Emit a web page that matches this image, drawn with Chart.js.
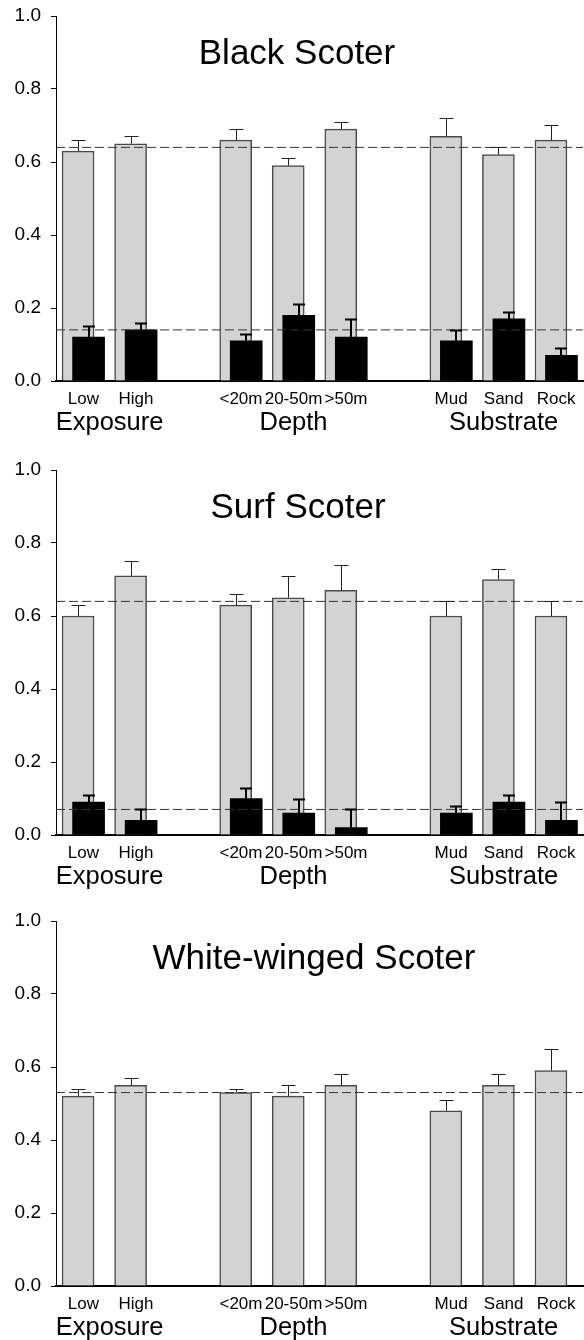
<!DOCTYPE html>
<html>
<head>
<meta charset="utf-8">
<script src="https://cdn.jsdelivr.net/npm/chart.js@4.4.0/dist/chart.umd.min.js"></script>
<style>
  body { margin: 0; background: #fff; overflow: hidden; }
  canvas { position: absolute; left: 0; }
</style>
</head>
<body>
<canvas id="c0" width="584" height="433" style="top:4px"></canvas>
<canvas id="c1" width="584" height="433" style="top:458px"></canvas>
<canvas id="c2" width="584" height="433" style="top:909px"></canvas>
<script>
// categories along the x axis, slot index leaves gaps between groups
const categories = ['Low', 'High', '<20m', '20-50m', '>50m', 'Mud', 'Sand', 'Rock'];
const slots = [0, 1, 3, 4, 5, 7, 8, 9];
const groups = ['Exposure', 'Depth', 'Substrate'];
const groupSlots = [[0, 1], [3, 4, 5], [7, 8, 9]];
const yTicks = [0, 0.2, 0.4, 0.6, 0.8, 1.0];

const titles = ['Black Scoter', 'Surf Scoter', 'White-winged Scoter'];

const blackGrey = [0.63, 0.65, 0.66, 0.59, 0.69, 0.67, 0.62, 0.66];
const blackGreyErr = [0.03, 0.02, 0.03, 0.02, 0.02, 0.05, 0.02, 0.04];
const blackDark = [0.12, 0.14, 0.11, 0.18, 0.12, 0.11, 0.17, 0.07];
const blackDarkErr = [0.03, 0.02, 0.02, 0.03, 0.05, 0.03, 0.02, 0.02];
const blackRef = [0.64, 0.14];

const surfGrey = [0.60, 0.71, 0.63, 0.65, 0.67, 0.60, 0.70, 0.60];
const surfGreyErr = [0.03, 0.04, 0.03, 0.06, 0.07, 0.04, 0.03, 0.04];
const surfDark = [0.09, 0.04, 0.10, 0.06, 0.02, 0.06, 0.09, 0.04];
const surfDarkErr = [0.02, 0.03, 0.03, 0.04, 0.05, 0.02, 0.02, 0.05];
const surfRef = [0.64, 0.07];

const whiteGrey = [0.52, 0.55, 0.53, 0.52, 0.55, 0.48, 0.55, 0.59];
const whiteGreyErr = [0.02, 0.02, 0.01, 0.03, 0.03, 0.03, 0.03, 0.06];
const whiteRef = [0.53];

const FONT = "'Liberation Sans', Arial, sans-serif";
const X_MIN = -0.42, X_MAX = 9.61;
const DARK_SHIFT = 0.2;
const titleCenters = [297, 298, 314];

// upward error bars with a cap
const errorBars = {
  id: 'errorBars',
  afterDatasetsDraw(chart) {
    const ctx = chart.ctx;
    const y = chart.scales.y;
    chart.data.datasets.forEach((ds, d) => {
      if (!ds.errors) return;
      const meta = chart.getDatasetMeta(d);
      ctx.save();
      ctx.strokeStyle = ds.errColor;
      ctx.lineWidth = ds.errWidth;
      meta.data.forEach((bar, i) => {
        const top = Math.round(y.getPixelForValue(ds.data[i].y + ds.errors[i])) + 0.5;
        const x = Math.round(bar.x) + (ds.errWidth === 1 ? 0.5 : 0);
        ctx.beginPath();
        ctx.moveTo(x, bar.y);
        ctx.lineTo(x, top);
        ctx.moveTo(x - ds.capHalf, top);
        ctx.lineTo(x + ds.capHalf, top);
        ctx.stroke();
      });
      ctx.restore();
    });
  }
};

const panelTitle = {
  id: 'panelTitle',
  afterDraw(chart, args, opts) {
    const ctx = chart.ctx;
    ctx.save();
    ctx.font = '35px ' + FONT;
    ctx.fillStyle = '#000';
    ctx.textAlign = 'center';
    ctx.textBaseline = 'alphabetic';
    ctx.fillText(opts.text, opts.x, chart.chartArea.top + 48);
    ctx.restore();
  }
};

function makePanel(idx, grey, greyErr, dark, darkErr, refs) {
  const datasets = [];
  refs.forEach(r => {
    datasets.push({
      type: 'line',
      data: [{ x: X_MIN, y: r }, { x: X_MAX, y: r }],
      borderColor: '#333',
      borderWidth: 1,
      borderDash: [9, 4],
      pointRadius: 0,
      order: 0
    });
  });
  if (dark) {
    datasets.push({
      type: 'bar',
      data: dark.map((v, i) => ({ x: slots[i] + DARK_SHIFT, y: v })),
      errors: darkErr,
      errColor: '#000', errWidth: 2, capHalf: 6,
      backgroundColor: '#000',
      borderWidth: 0,
      order: 1
    });
  }
  datasets.push({
    type: 'bar',
    data: grey.map((v, i) => ({ x: slots[i], y: v })),
    errors: greyErr,
    errColor: '#222', errWidth: 1, capHalf: 7,
    backgroundColor: '#d3d3d3',
    borderColor: '#4a4a4a',
    borderWidth: 1.5,
    order: 2
  });
  // grey bars first so the dark bars sit on top
  datasets.sort((a, b) => b.order - a.order);

  new Chart(document.getElementById('c' + idx), {
    type: 'bar',
    data: { datasets },
    plugins: [errorBars, panelTitle],
    options: {
      responsive: false,
      animation: false,
      devicePixelRatio: 1,
      layout: { padding: { top: 12, bottom: 0, left: 0, right: 1 } },
      datasets: { bar: { grouped: false, barThickness: 32 } },
      plugins: {
        legend: { display: false },
        tooltip: { enabled: false },
        panelTitle: { text: titles[idx], x: titleCenters[idx] }
      },
      scales: {
        x: {
          type: 'linear', min: X_MIN, max: X_MAX, weight: 0, offset: false,
          grid: { display: false, drawTicks: false, offset: false },
          border: { display: true, color: '#000', width: 2 },
          afterBuildTicks: s => { s.ticks = slots.map(v => ({ value: v + 0.1 })); },
          afterFit: s => { s.height = 30; s.paddingLeft = 0; s.paddingRight = 0; },
          ticks: {
            autoSkip: false, maxRotation: 0, padding: 8, color: '#000',
            font: { family: FONT, size: 17 },
            callback: (v, i) => categories[i]
          }
        },
        x2: {
          type: 'linear', position: 'bottom', axis: 'x', min: X_MIN, max: X_MAX, weight: 1, offset: false,
          grid: { display: false, drawTicks: false, offset: false },
          border: { display: false },
          afterBuildTicks: s => {
            s.ticks = groupSlots.map(g => ({ value: g.reduce((a, b) => a + b, 0) / g.length + 0.1 }));
          },
          afterFit: s => { s.height = 26; s.paddingLeft = 0; s.paddingRight = 0; },
          ticks: {
            autoSkip: false, maxRotation: 0, padding: -3, color: '#000',
            font: { family: FONT, size: 25.5 },
            callback: (v, i) => groups[i]
          }
        },
        y: {
          min: 0, max: 1,
          afterBuildTicks: s => { s.ticks = yTicks.map(v => ({ value: v })); },
          afterFit: s => { s.width = 56; s.paddingTop = 0; s.paddingBottom = 0; },
          grid: { drawOnChartArea: false, drawTicks: true, tickLength: 5, color: '#000' },
          border: { display: true, color: '#000', width: 1 },
          ticks: {
            padding: 10, color: '#000',
            font: { family: FONT, size: 19 },
            callback: v => v.toFixed(1)
          }
        }
      }
    }
  });
}

makePanel(0, blackGrey, blackGreyErr, blackDark, blackDarkErr, blackRef);
makePanel(1, surfGrey, surfGreyErr, surfDark, surfDarkErr, surfRef);
makePanel(2, whiteGrey, whiteGreyErr, null, null, whiteRef);
</script>
</body>
</html>
